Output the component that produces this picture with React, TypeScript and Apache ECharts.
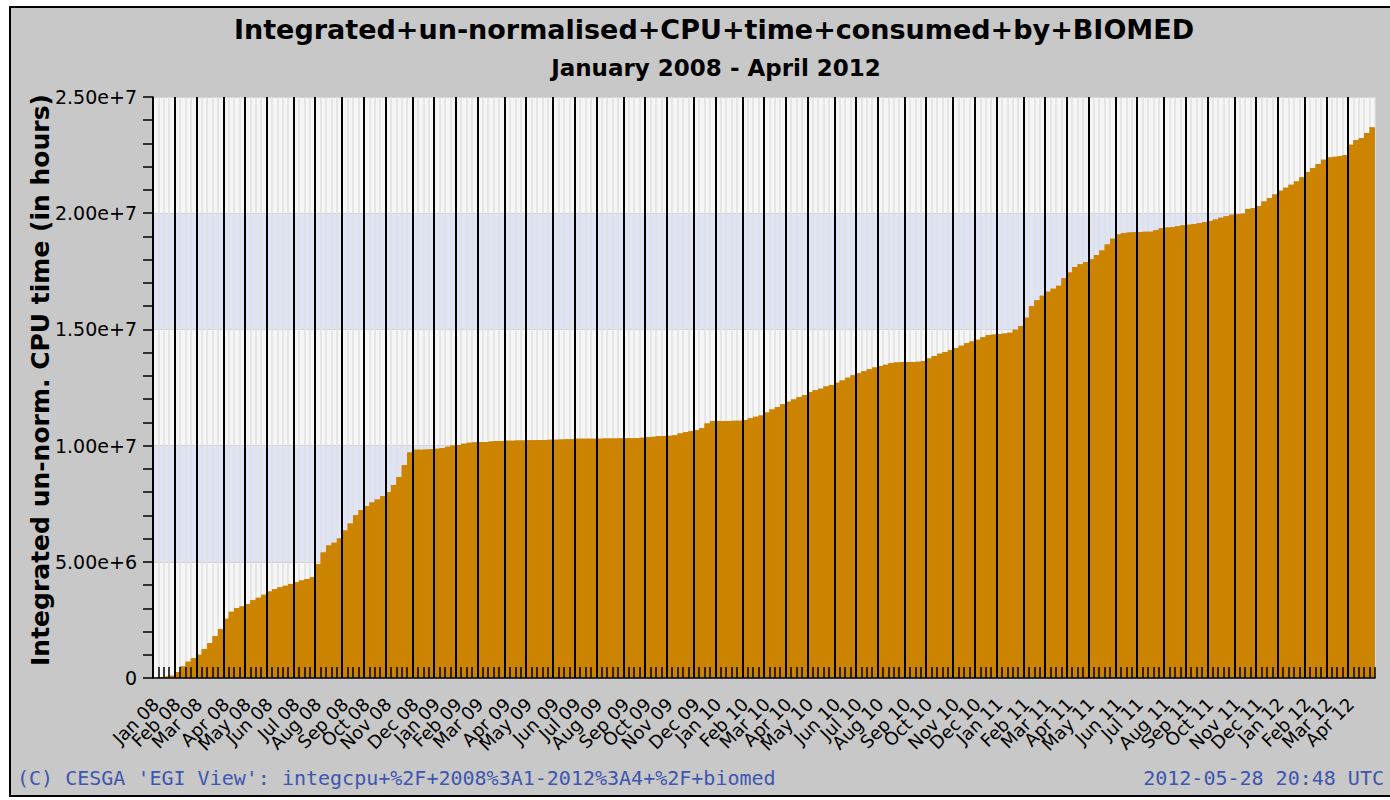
import React, { useEffect, useRef } from 'react';
import * as echarts from 'echarts';

// Month tick labels (Jan 2008 – Apr 2012)
const monthLabels = [
  'Jan 08', 'Feb 08', 'Mar 08', 'Apr 08', 'May 08', 'Jun 08', 'Jul 08', 'Aug 08', 'Sep 08', 'Oct 08', 'Nov 08', 'Dec 08',
  'Jan 09', 'Feb 09', 'Mar 09', 'Apr 09', 'May 09', 'Jun 09', 'Jul 09', 'Aug 09', 'Sep 09', 'Oct 09', 'Nov 09', 'Dec 09',
  'Jan 10', 'Feb 10', 'Mar 10', 'Apr 10', 'May 10', 'Jun 10', 'Jul 10', 'Aug 10', 'Sep 10', 'Oct 10', 'Nov 10', 'Dec 10',
  'Jan 11', 'Feb 11', 'Mar 11', 'Apr 11', 'May 11', 'Jun 11', 'Jul 11', 'Aug 11', 'Sep 11', 'Oct 11', 'Nov 11', 'Dec 11',
  'Jan 12', 'Feb 12', 'Mar 12', 'Apr 12',
];

// Integrated CPU time per week, in millions of hours
const cpuMillions = [
  0.01, 0.03, 0.06, 0.10, 0.25, 0.50, 0.70, 0.85, 1.00, 1.25,
  1.50, 1.80, 2.10, 2.55, 2.85, 3.00, 3.08, 3.18, 3.35, 3.45,
  3.58, 3.72, 3.82, 3.90, 3.97, 4.05, 4.12, 4.20, 4.26, 4.33,
  4.90, 5.40, 5.70, 5.82, 6.00, 6.35, 6.65, 7.00, 7.22, 7.40,
  7.55, 7.68, 7.82, 8.00, 8.30, 8.65, 9.15, 9.70, 9.82, 9.82,
  9.83, 9.84, 9.86, 9.90, 9.95, 10.00, 10.03, 10.08, 10.12, 10.14,
  10.15, 10.16, 10.18, 10.20, 10.20, 10.21, 10.21, 10.22, 10.22, 10.23,
  10.23, 10.24, 10.24, 10.25, 10.25, 10.26, 10.27, 10.28, 10.29, 10.29,
  10.30, 10.30, 10.30, 10.31, 10.31, 10.31, 10.32, 10.32, 10.32, 10.33,
  10.34, 10.36, 10.38, 10.40, 10.41, 10.42, 10.45, 10.52, 10.57, 10.62,
  10.66, 10.75, 10.95, 11.06, 11.06, 11.06, 11.06, 11.07, 11.07, 11.10,
  11.18, 11.24, 11.30, 11.42, 11.55, 11.65, 11.78, 11.89, 11.98, 12.08,
  12.18, 12.30, 12.38, 12.45, 12.54, 12.61, 12.70, 12.80, 12.92, 13.03,
  13.11, 13.20, 13.28, 13.36, 13.42, 13.48, 13.54, 13.58, 13.60, 13.60,
  13.60, 13.61, 13.64, 13.75, 13.86, 13.95, 14.03, 14.10, 14.20, 14.30,
  14.40, 14.48, 14.56, 14.66, 14.76, 14.78, 14.80, 14.82, 14.86, 14.98,
  15.15, 15.50, 16.00, 16.25, 16.45, 16.62, 16.75, 16.88, 17.20, 17.45,
  17.68, 17.80, 17.90, 18.02, 18.20, 18.40, 18.65, 18.90, 19.08, 19.15,
  19.17, 19.18, 19.19, 19.20, 19.20, 19.27, 19.35, 19.38, 19.40, 19.44,
  19.48, 19.50, 19.53, 19.57, 19.61, 19.66, 19.73, 19.80, 19.87, 19.93,
  19.96, 19.98, 20.18, 20.22, 20.30, 20.50, 20.65, 20.80, 20.97, 21.10,
  21.22, 21.36, 21.55, 21.77, 21.95, 22.12, 22.30, 22.40, 22.43, 22.45,
  22.50, 22.95, 23.15, 23.22, 23.45, 23.70,
];

const titleText = 'Integrated+un-normalised+CPU+time+consumed+by+BIOMED';
const subtitleText = 'January 2008 - April 2012';
const yAxisTitle = 'Integrated un-norm. CPU time (in hours)';
const footerLeft = "(C) CESGA 'EGI View': integcpu+%2F+2008%3A1-2012%3A4+%2F+biomed";
const footerRight = '2012-05-28 20:48 UTC';

// Weekly categories (weeks starting Monday 31 Dec 2007)
const DAY = 86400000;
const START = Date.UTC(2007, 11, 31);
const weekCategories = cpuMillions.map((_, k) => new Date(START + k * 7 * DAY).toISOString().slice(0, 10));
const labelByWeek: Record<number, string> = {};
monthLabels.forEach((lab, m) => {
  const y = 2008 + Math.floor(m / 12);
  const mo = m % 12;
  const idx = Math.round((Date.UTC(y, mo, 1) - START) / DAY);
  labelByWeek[Math.floor(idx / 7)] = lab;
});
const isMonthStart = (i: number) => labelByWeek[i] !== undefined;

const ORANGE = '#cc8400';

export default function App() {
  const ref = useRef<HTMLDivElement>(null);
  useEffect(() => {
    if (!ref.current) return;
    const chart = echarts.init(ref.current, undefined, { renderer: 'svg' });
    const values = cpuMillions.map((v) => v * 1e6);
    const option: any = {
      animation: false,
      backgroundColor: '#ffffff',
      textStyle: { fontFamily: 'DejaVu Sans' },
      grid: { left: 153, right: 15, top: 97, bottom: 122, containLabel: false, outerBoundsMode: 'none' },
      xAxis: [
        {
          type: 'category',
          position: 'bottom',
          data: weekCategories,
          boundaryGap: true,
          z: 10,
          axisLine: { show: true, lineStyle: { color: '#000', width: 1.5 } },
          axisTick: { show: true, inside: true, length: 11, interval: 0, lineStyle: { color: '#000', width: 1.5 } },
          splitLine: {
            show: true,
            showMaxLine: false,
            interval: (i: number) => isMonthStart(i),
            lineStyle: { color: '#000', width: 2 },
          },
          axisLabel: {
            interval: 0,
            formatter: (_v: string, i: number) => labelByWeek[i] ?? '',
            rotate: 45,
            fontSize: 18,
            fontFamily: 'DejaVu Sans',
            color: '#000',
            margin: 23,
            hideOverlap: false,
          },
        },
        {
          type: 'category',
          position: 'bottom',
          data: weekCategories,
          boundaryGap: true,
          z: 1,
          axisLine: { show: false },
          axisTick: { show: false },
          axisLabel: { show: false },
          splitLine: { show: true, interval: 0, lineStyle: { color: '#e0e0e0', width: 1.5 } },
        },
      ],
      yAxis: [
        {
          type: 'value',
          position: 'left',
          min: 0,
          max: 25e6,
          interval: 5e6,
          z: 0,
          axisLine: { show: false },
          axisTick: { show: false },
          axisLabel: { show: false },
          splitLine: { show: true, lineStyle: { color: '#d4d4d4', width: 1 } },
          splitArea: { show: true, areaStyle: { color: ['#f6f6f6', '#dfe4f7'] } },
        },
        {
          type: 'value',
          position: 'left',
          min: 0,
          max: 25e6,
          interval: 5e6,
          z: 10,
          axisLine: { show: true, lineStyle: { color: '#000', width: 1.5 } },
          axisTick: { show: true, length: 10, lineStyle: { color: '#000', width: 1.5 } },
          minorTick: { show: true, splitNumber: 5, length: 10, lineStyle: { color: '#000', width: 1.5 } },
          axisLabel: {
            formatter: (v: number) => (v === 0 ? '0' : v.toExponential(2)),
            fontSize: 19,
            fontFamily: 'DejaVu Sans',
            color: '#000',
            margin: 16,
          },
          splitLine: { show: false },
          splitArea: { show: false },
        },
      ],
      series: [
        {
          type: 'line',
          xAxisIndex: 0,
          yAxisIndex: 0,
          data: values,
          step: 'middle',
          symbol: 'none',
          lineStyle: { width: 0 },
          areaStyle: { color: ORANGE, opacity: 1 },
          z: 2,
          silent: true,
        },
        {
          type: 'bar',
          xAxisIndex: 0,
          yAxisIndex: 0,
          data: values,
          barCategoryGap: '0%',
          itemStyle: { color: ORANGE },
          z: 3,
          silent: true,
        },
      ],
      graphic: [
        {
          type: 'rect',
          z: -100,
          silent: true,
          shape: { x: 10, y: 7, width: 1400, height: 789 },
          style: { fill: '#c8c8c8', stroke: '#000', lineWidth: 2 },
        },
        {
          type: 'text',
          x: 714,
          y: 29,
          style: { text: titleText, fontSize: 27, fontWeight: 'bold', fontFamily: 'DejaVu Sans', fill: '#000', align: 'center', verticalAlign: 'middle' },
        },
        {
          type: 'text',
          x: 716,
          y: 68,
          style: { text: subtitleText, fontSize: 23, fontWeight: 'bold', fontFamily: 'DejaVu Sans', fill: '#000', align: 'center', verticalAlign: 'middle' },
        },
        {
          type: 'text',
          x: 40,
          y: 380,
          rotation: Math.PI / 2,
          style: { text: yAxisTitle, fontSize: 25, fontWeight: 'bold', fontFamily: 'DejaVu Sans', fill: '#000', align: 'center', verticalAlign: 'middle' },
        },
        {
          type: 'text',
          x: 17,
          y: 778,
          style: { text: footerLeft, fontSize: 20, fontFamily: 'DejaVu Sans Mono', fill: '#3e56b0', align: 'left', verticalAlign: 'middle' },
        },
        {
          type: 'text',
          x: 1384,
          y: 778,
          style: { text: footerRight, fontSize: 20, fontFamily: 'DejaVu Sans Mono', fill: '#3e56b0', align: 'right', verticalAlign: 'middle' },
        },
      ],
    };
    chart.setOption(option);
    return () => chart.dispose();
  }, []);
  return <div ref={ref} style={{ position: 'fixed', left: 0, top: 0, width: 1390, height: 800 }} />;
}
